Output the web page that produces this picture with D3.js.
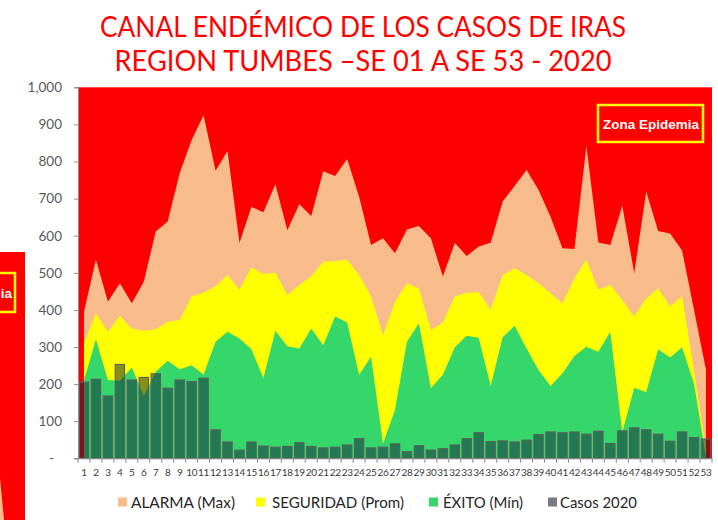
<!DOCTYPE html>
<html>
<head>
<meta charset="utf-8">
<script src="https://cdn.jsdelivr.net/npm/d3@7"></script>
<style>
  body { margin: 0; background: #ffffff; }
  svg { display: block; }
</style>
</head>
<body>
<svg id="chart" width="718" height="520"></svg>
<script>
// Semanas epidemiológicas
const semanas = [1,2,3,4,5,6,7,8,9,10,11,12,13,14,15,16,17,18,19,20,21,22,23,24,25,26,27,
  28,29,30,31,32,33,34,35,36,37,38,39,40,41,42,43,44,45,46,47,48,49,50,51,52,53];

// Canal endémico: zona de alarma (máximo)
const alarma = [395,535,422,472,418,476,611,638,768,858,925,775,828,580,678,663,739,615,685,653,
  774,761,807,705,575,593,553,617,626,593,490,580,545,571,581,692,734,777,723,651,566,564,842,
  582,575,681,499,719,613,606,560,400,238];

// Zona de seguridad (promedio)
const seguridad = [310,391,341,384,350,344,348,368,373,437,446,464,494,454,515,497,500,440,467,491,
  530,532,535,494,437,332,422,472,458,346,366,437,446,448,401,494,512,494,472,445,418,485,536,
  455,467,427,382,431,458,409,437,235,25];

// Zona de éxito (mínimo)
const exito = [210,321,211,209,245,168,233,263,240,251,226,314,341,323,294,216,344,302,296,350,
  305,382,366,225,274,40,130,314,364,189,225,299,330,325,195,326,357,296,238,195,229,276,301,
  287,341,70,190,178,294,272,299,200,5];

// Casos notificados 2020
const casos2020 = [205,213,168,253,211,218,228,189,211,207,216,77,44,22,44,33,30,32,42,32,
  28,30,36,53,28,30,39,18,34,22,26,36,53,69,45,47,44,49,64,71,69,71,65,73,40,74,82,77,65,46,
  71,56,52];

const yTicks = [0,100,200,300,400,500,600,700,800,900,1000];
const titulo = ["CANAL ENDÉMICO DE LOS CASOS DE IRAS", "REGION TUMBES –SE 01 A SE 53 - 2020"];
const leyenda = ["ALARMA (Max)", "SEGURIDAD (Prom)", "ÉXITO (Mín)", "Casos 2020"];
const zonaTexto = "Zona Epidemia";

const colores = {
  epidemia: "#ff0000",
  alarma: "#f8bc8c",
  seguridad: "#ffff00",
  exito: "#35d66a",
  barra: "rgb(15,30,58)"
};

const svg = d3.select("#chart");
const fontMain = "Lato, 'Open Sans', 'DejaVu Sans', sans-serif";

svg.append("rect").attr("width", 718).attr("height", 520).attr("fill", "#ffffff");

// Borde de la diapositiva vecina
const vecina = svg.append("g");
vecina.append("rect").attr("x", 0).attr("y", 252).attr("width", 25).attr("height", 268)
  .attr("fill", colores.epidemia);
vecina.append("polygon").attr("points", "0,478 4,520 0,520").attr("fill", colores.alarma);
vecina.append("rect").attr("x", -4).attr("y", 273).attr("width", 19).attr("height", 39)
  .attr("fill", "none").attr("stroke", "#ffff00").attr("stroke-width", 2.5);
vecina.append("text").attr("x", 12).attr("y", 298).attr("text-anchor", "end")
  .attr("font-family", "'Liberation Sans', Arial, sans-serif").attr("font-weight", "bold")
  .attr("font-size", 13.5).attr("fill", "#ffffff").text("ia");

// Título
svg.selectAll("text.titulo").data(titulo).join("text")
  .attr("class", "titulo")
  .attr("x", 363)
  .attr("y", (d, i) => 37 + i * 34)
  .attr("text-anchor", "middle")
  .attr("font-family", fontMain)
  .attr("font-size", 28.5)
  .attr("fill", "#ff0000")
  .attr("textLength", (d, i) => i === 0 ? 526 : 497)
  .attr("lengthAdjust", "spacingAndGlyphs")
  .text(d => d);

// Escalas
const plot = { left: 78, right: 712, top: 87.3, bottom: 458.3 };
const x = d3.scaleBand().domain(semanas).range([plot.left, plot.right])
  .paddingInner(0.22).paddingOuter(0.11);
const y = d3.scaleLinear().domain([0, 1000]).range([plot.bottom, plot.top]);
const cx = s => x(s) + x.bandwidth() / 2;

// Zona epidemia (fondo del área de trazado)
svg.append("rect")
  .attr("x", plot.left).attr("y", y(1000))
  .attr("width", plot.right - plot.left).attr("height", y(0) - y(1000))
  .attr("fill", colores.epidemia);

// Áreas del canal endémico
const areaGen = d3.area()
  .x((d, i) => cx(semanas[i]))
  .y0(y(0))
  .y1(d => y(d));

[["alarma", alarma], ["seguridad", seguridad], ["exito", exito]].forEach(([k, vals]) => {
  svg.append("path").attr("d", areaGen(vals)).attr("fill", colores[k]);
});

// Barras de casos 2020
svg.append("g").selectAll("rect").data(casos2020).join("rect")
  .attr("x", (d, i) => x(semanas[i]))
  .attr("y", d => y(d))
  .attr("width", x.bandwidth())
  .attr("height", d => y(0) - y(d))
  .attr("fill", colores.barra)
  .attr("fill-opacity", 0.5)
  .attr("stroke", "#5e5e5e")
  .attr("stroke-width", 1.1);

// Eje Y
const yAxis = svg.append("g")
  .attr("transform", `translate(${plot.left},0)`)
  .call(d3.axisLeft(y).tickValues(yTicks).tickSize(4).tickPadding(12)
    .tickFormat(d => d === 0 ? "-" : d3.format(",")(d)));
yAxis.select(".domain").attr("stroke", "#8c8c8c");
yAxis.selectAll(".tick line").attr("stroke", "#8c8c8c");
yAxis.selectAll(".tick text")
  .attr("font-family", fontMain).attr("font-size", 13.5).attr("fill", "#595959")
  .attr("dx", d => d === 0 ? -8 : 0);

// Eje X
const xAxis = svg.append("g")
  .attr("transform", `translate(0,${plot.bottom})`)
  .call(d3.axisBottom(x).tickSize(0).tickSizeOuter(0).tickPadding(11));
xAxis.select(".domain").attr("stroke", "#8c8c8c");
xAxis.selectAll(".tick text")
  .attr("font-family", fontMain).attr("font-size", 10).attr("fill", "#3a3a3a")
  .attr("letter-spacing", -0.3);

// Marcas entre categorías
const gap = (x.step() - x.bandwidth()) / 2;
const limites = semanas.map(s => x(s) - gap).concat([x(semanas[semanas.length - 1]) + x.bandwidth() + gap]);
svg.append("g").selectAll("line").data(limites).join("line")
  .attr("x1", d => d).attr("x2", d => d)
  .attr("y1", plot.bottom).attr("y2", plot.bottom + 4.5)
  .attr("stroke", "#8c8c8c");

// Etiqueta de zona epidemia
svg.append("rect").attr("x", 598).attr("y", 105).attr("width", 105).attr("height", 37)
  .attr("fill", "none").attr("stroke", "#ffff00").attr("stroke-width", 2.5);
svg.append("text").attr("x", 651).attr("y", 129).attr("text-anchor", "middle")
  .attr("font-family", "'Liberation Sans', Arial, sans-serif").attr("font-weight", "bold")
  .attr("font-size", 13.5).attr("fill", "#ffffff").text(zonaTexto);

// Leyenda
const legSw = [118, 256, 429, 548];
const legTx = [131, 272, 443, 560];
const legW = [104, 132, 80, 77];
const legCol = [colores.alarma, colores.seguridad, colores.exito, "#767b86"];
const leg = svg.append("g");
leyenda.forEach((t, i) => {
  leg.append("rect").attr("x", legSw[i]).attr("y", 497.5).attr("width", 9).attr("height", 9)
    .attr("fill", legCol[i]);
  leg.append("text").attr("x", legTx[i]).attr("y", 508)
    .attr("font-family", fontMain).attr("font-size", 16).attr("fill", "#262626")
    .attr("textLength", legW[i]).attr("lengthAdjust", "spacingAndGlyphs")
    .text(t);
});
</script>
</body>
</html>
